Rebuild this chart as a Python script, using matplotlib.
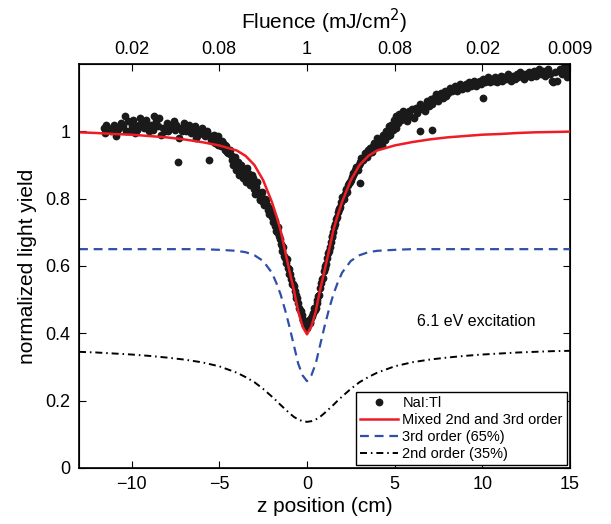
import matplotlib
matplotlib.use("Agg")
import matplotlib.pyplot as plt

plt.rcParams['font.family'] = ['Liberation Sans', 'DejaVu Sans']

# model curves
z_fit = [-13, -12, -11, -10, -9, -8, -7, -6, -5, -4, -3.5, -3, -2.5, -2, -1.75, -1.5,
         -1.25, -1, -0.75, -0.5, -0.25, 0, 0.25, 0.5, 0.75, 1, 1.25, 1.5, 1.75, 2,
         2.5, 3, 3.5, 4, 5, 6, 7, 8, 9, 10, 11, 12, 13, 14, 15]
mixed = [0.997, 0.995, 0.992, 0.990, 0.986, 0.982, 0.976, 0.968, 0.958, 0.943, 0.927,
         0.900, 0.855, 0.790, 0.750, 0.705, 0.645, 0.585, 0.530, 0.465, 0.420, 0.397,
         0.420, 0.465, 0.530, 0.585, 0.645, 0.705, 0.750, 0.790, 0.855, 0.900, 0.927,
         0.943, 0.958, 0.968, 0.976, 0.982, 0.986, 0.990, 0.992, 0.995, 0.997, 0.998, 0.999]
third = [0.650, 0.650, 0.650, 0.650, 0.650, 0.650, 0.650, 0.650, 0.648, 0.645, 0.641,
         0.632, 0.615, 0.580, 0.550, 0.515, 0.470, 0.420, 0.365, 0.310, 0.275, 0.258,
         0.275, 0.310, 0.365, 0.420, 0.470, 0.515, 0.550, 0.580, 0.615, 0.632, 0.641,
         0.645, 0.648, 0.650, 0.650, 0.650, 0.650, 0.650, 0.650, 0.650, 0.650, 0.650, 0.650]
second = [0.345, 0.343, 0.340, 0.337, 0.333, 0.328, 0.322, 0.314, 0.302, 0.283, 0.270,
          0.255, 0.235, 0.212, 0.200, 0.187, 0.175, 0.163, 0.152, 0.144, 0.139, 0.137,
          0.139, 0.144, 0.152, 0.163, 0.175, 0.187, 0.200, 0.212, 0.235, 0.255, 0.270,
          0.283, 0.302, 0.314, 0.322, 0.328, 0.333, 0.337, 0.340, 0.343, 0.345, 0.347, 0.348]

# NaI:Tl measured points
z_data = [
    -11.6, -11.5, -11.3, -11.2, -11.0, -10.9, -10.7, -10.6, -10.4, -10.3, -10.2, -10.0,
    -9.9, -9.8, -9.6, -9.5, -9.3, -9.2, -9.0, -8.9, -8.7, -8.6, -8.5, -8.3, -8.2, -8.0,
    -7.9, -7.7, -7.6, -7.5, -7.3, -7.2, -7.0, -6.9, -6.7, -6.6, -6.4, -6.3, -6.1, -6.0,
    -5.8, -5.7, -7.35, -5.6,
    -11.45, -11.1, -10.85, -10.5, -10.15, -9.85, -9.7, -9.4, -9.1, -8.8, -8.45, -8.1,
    -7.8, -7.45, -7.1, -6.8, -6.5, -6.2, -5.9, -5.65,
    -5.5, -5.4, -5.3, -5.2, -5.1, -5.0, -4.9, -4.8, -4.7, -4.6, -4.5, -4.4, -4.3, -4.2,
    -4.1, -4.0, -3.9, -3.8, -3.7, -3.6, -3.5, -3.4, -3.3, -3.2, -3.1, -3.0, -2.9, -2.8,
    -2.7, -2.6, -2.5, -2.4, -2.3, -2.2, -2.1, -2.0, -1.9, -1.8, -1.7, -1.6, -1.5, -1.4,
    -1.3, -1.2, -1.1, -1.0, -0.9, -0.8, -0.7, -0.6, -0.5, -0.4, -0.3, -0.2, -0.1, 0.0,
    0.05,
    -5.45, -5.25, -5.05, -4.85, -4.65, -4.55, -4.35, -4.15, -4.05, -3.95, -3.85, -3.75,
    -3.65, -3.55, -3.45, -3.35, -3.25, -3.15, -3.05, -2.95, -2.85, -2.75, -2.65, -2.55,
    -2.45, -2.35, -2.25, -2.15, -2.05, -1.95, -1.85, -1.75, -1.65, -1.55, -1.45, -1.35,
    -1.25, -1.15, -1.05, -0.95, -0.85, -0.75, -0.65, -0.55, -0.45, -0.35, -0.25, -0.15,
    -0.05,
    0.15, 0.25, 0.35, 0.45, 0.55, 0.65, 0.75, 0.85, 0.95, 1.05, 1.15, 1.25, 1.35, 1.45,
    1.55, 1.65, 1.75, 1.85, 1.95, 2.05, 2.15, 2.25, 2.35, 2.45, 2.55, 2.65, 2.75, 2.85,
    2.95, 3.05, 3.15, 3.25, 3.35, 3.45, 3.55, 3.65, 3.75, 3.85, 3.95, 4.05, 4.15, 3.02,
    0.1, 0.2, 0.3, 0.4, 0.5, 0.6, 0.7, 0.8, 0.9, 1.0, 1.1, 1.2, 1.3, 1.4, 1.5, 1.6, 1.7,
    1.8, 1.9, 2.0, 2.1, 2.2, 2.3, 2.4, 2.5, 2.6, 2.7, 2.8, 2.9, 3.0, 3.1, 3.2, 3.3, 3.4,
    3.5, 3.6, 3.7, 3.8, 3.9, 4.0, 4.1,
    4.20, 4.30, 4.35, 4.45, 4.50, 4.60, 4.65, 4.75, 4.80, 4.90, 4.95, 5.05, 5.10, 5.20,
    5.25, 5.35, 5.45, 5.55, 5.60, 5.70, 5.80, 5.90, 6.00, 6.10, 6.20, 6.30, 6.45, 6.55,
    6.65, 6.75, 6.85, 6.95, 7.05, 7.15, 7.25, 7.35, 7.45, 7.55, 7.65, 7.75, 7.85, 7.95,
    8.05, 8.15, 8.25, 8.35, 8.45, 8.55, 8.65, 8.75, 8.85, 8.95, 9.05, 9.15, 9.25, 9.35,
    9.45, 9.55, 9.65, 9.75, 9.85, 9.95, 10.05, 10.15, 10.25, 10.35, 10.45, 10.55, 10.65,
    10.75, 10.85, 10.95, 11.05, 11.15, 11.25, 11.35, 11.45, 11.55, 11.65, 11.75, 11.85,
    11.95, 12.05, 12.15, 12.25, 12.35, 12.45, 12.55, 12.65, 12.75, 12.85, 12.95, 13.05,
    13.15, 13.25, 13.35, 13.45, 13.55, 13.65, 13.75, 13.85, 13.95, 14.05, 14.15, 14.25,
    14.35, 14.45, 14.55, 14.65, 14.75, 14.85, 14.95, 15.0, 6.44, 7.15, 10.05,
]
y_data = [
    1.010, 0.995, 1.005, 1.000, 1.020, 0.985, 1.010, 1.025, 1.045, 1.000, 1.030, 1.015,
    1.035, 0.995, 1.020, 1.040, 1.010, 1.035, 1.000, 1.020, 1.045, 1.030, 1.015, 0.990,
    1.010, 1.025, 1.000, 1.020, 1.030, 1.005, 0.980, 1.010, 1.025, 1.000, 1.020, 0.995,
    1.015, 0.980, 1.000, 1.010, 0.985, 1.000, 0.910, 0.915,
    1.020, 1.010, 1.000, 1.015, 1.000, 1.020, 1.005, 1.025, 1.015, 1.005, 1.040, 1.000,
    1.010, 1.020, 1.000, 1.010, 1.000, 0.990, 1.000, 0.990,
    0.985, 0.970, 0.990, 0.975, 0.960, 0.975, 0.955, 0.965, 0.945, 0.955, 0.935, 0.945,
    0.915, 0.900, 0.925, 0.905, 0.880, 0.895, 0.870, 0.885, 0.865, 0.890, 0.855, 0.845,
    0.860, 0.830, 0.835, 0.820, 0.800, 0.810, 0.790, 0.800, 0.780, 0.765, 0.770, 0.745,
    0.740, 0.720, 0.700, 0.690, 0.665, 0.645, 0.630, 0.610, 0.595, 0.575, 0.560, 0.545,
    0.525, 0.505, 0.490, 0.470, 0.455, 0.440, 0.425, 0.415, 0.430,
    0.975, 0.965, 0.985, 0.970, 0.960, 0.940, 0.930, 0.920, 0.885, 0.910, 0.870, 0.900,
    0.860, 0.875, 0.850, 0.875, 0.840, 0.870, 0.845, 0.815, 0.850, 0.815, 0.795, 0.820,
    0.780, 0.795, 0.775, 0.755, 0.760, 0.730, 0.735, 0.705, 0.715, 0.680, 0.660, 0.655,
    0.625, 0.620, 0.590, 0.575, 0.545, 0.540, 0.515, 0.505, 0.475, 0.465, 0.440, 0.435,
    0.430,
    0.430, 0.445, 0.460, 0.470, 0.490, 0.510, 0.535, 0.560, 0.585, 0.600, 0.625, 0.645,
    0.670, 0.690, 0.715, 0.740, 0.760, 0.770, 0.790, 0.800, 0.815, 0.825, 0.840, 0.850,
    0.865, 0.875, 0.885, 0.890, 0.900, 0.905, 0.915, 0.925, 0.930, 0.940, 0.935, 0.950,
    0.955, 0.960, 0.965, 0.970, 0.960, 0.845,
    0.440, 0.435, 0.450, 0.475, 0.475, 0.500, 0.515, 0.550, 0.565, 0.595, 0.605, 0.640,
    0.655, 0.685, 0.700, 0.725, 0.745, 0.770, 0.775, 0.805, 0.800, 0.830, 0.820, 0.845,
    0.855, 0.870, 0.875, 0.895, 0.885, 0.910, 0.920, 0.915, 0.935, 0.925, 0.945, 0.950,
    0.940, 0.965, 0.955, 0.980, 0.975,
    0.975, 0.960, 0.990, 0.975, 1.000, 0.985, 1.015, 0.990, 1.020, 1.005, 1.035, 1.010,
    1.045, 1.025, 1.050, 1.035, 1.060, 1.040, 1.055, 1.030, 1.060, 1.045, 1.065, 1.040,
    1.070, 1.055, 1.080, 1.065, 1.075, 1.060, 1.090, 1.075, 1.095, 1.080, 1.100, 1.110,
    1.090, 1.105, 1.115, 1.100, 1.120, 1.105, 1.115, 1.130, 1.120, 1.125, 1.135, 1.120,
    1.130, 1.140, 1.125, 1.135, 1.140, 1.130, 1.145, 1.135, 1.140, 1.150, 1.135, 1.145,
    1.150, 1.140, 1.155, 1.145, 1.150, 1.160, 1.145, 1.155, 1.150, 1.160, 1.145, 1.155,
    1.165, 1.150, 1.160, 1.155, 1.170, 1.160, 1.150, 1.165, 1.155, 1.170, 1.160, 1.175,
    1.165, 1.155, 1.170, 1.165, 1.175, 1.160, 1.170, 1.180, 1.165, 1.175, 1.185, 1.170,
    1.180, 1.165, 1.175, 1.185, 1.170, 1.150, 1.145, 1.175, 1.150, 1.180, 1.185, 1.170,
    1.190, 1.180, 1.160, 1.185, 1.200, 1.000, 1.004, 1.100,
]

fluence_pos = [-10, -5, 0, 5, 10, 15]
fluence_labels = ["0.02", "0.08", "1", "0.08", "0.02", "0.009"]
z_ticks = [-10, -5, 0, 5, 10, 15]
y_ticks = [0, 0.2, 0.4, 0.6, 0.8, 1]
y_labels = ["0", "0.2", "0.4", "0.6", "0.8", "1"]

fig = plt.figure(figsize=(6.11, 5.24), dpi=100, facecolor='white')
ax = fig.add_axes([0.1293, 0.1069, 0.8036, 0.771])

h_data, = ax.plot(z_data, y_data, 'o', color='#1a1a1a', markersize=5.6,
                  markeredgewidth=0, zorder=2, label='NaI:Tl')
h_third, = ax.plot(z_fit, third, color='#2f50a8', lw=1.6, dashes=(4, 2.6),
                   zorder=3, label='3rd order (65%)')
h_second, = ax.plot(z_fit, second, color='black', lw=1.4, dashes=(3.6, 2.0, 0.8, 2.0),
                    zorder=3, label='2nd order (35%)')
h_mixed, = ax.plot(z_fit, mixed, color='#ee1c25', lw=1.8, zorder=4,
                   label='Mixed 2nd and 3rd order')

ax.set_xlim(-13, 15)
ax.set_ylim(0, 1.2)
ax.set_xticks(z_ticks)
ax.set_yticks(y_ticks)
ax.set_yticklabels(y_labels)
ax.tick_params(direction='in', length=5, width=0.8, labelsize=13, right=True,
               top=False, pad=6)
ax.set_xlabel("z position (cm)", fontsize=15, labelpad=3)
ax.set_ylabel("normalized light yield", fontsize=15, labelpad=6)
for s in ax.spines.values():
    s.set_linewidth(1.2)

ax.text(6.3, 0.436, "6.1 eV excitation", fontsize=11.5, ha='left', va='center')

axt = ax.twiny()
axt.set_xlim(ax.get_xlim())
axt.set_xticks(fluence_pos)
axt.set_xticklabels(fluence_labels)
axt.tick_params(direction='in', length=5, width=0.8, labelsize=13, pad=4)
axt.set_xlabel("Fluence (mJ/cm$^2$)", fontsize=15, labelpad=9)

leg = ax.legend(handles=[h_data, h_mixed, h_third, h_second], loc='lower right',
                fontsize=10.5, frameon=True, fancybox=False, edgecolor='black',
                framealpha=1, borderaxespad=0.2, handlelength=2.6,
                handletextpad=0.3, borderpad=0.3, labelspacing=0.2)
leg.get_frame().set_linewidth(1.0)

plt.savefig("out.png", dpi=100)
plt.close(fig)
